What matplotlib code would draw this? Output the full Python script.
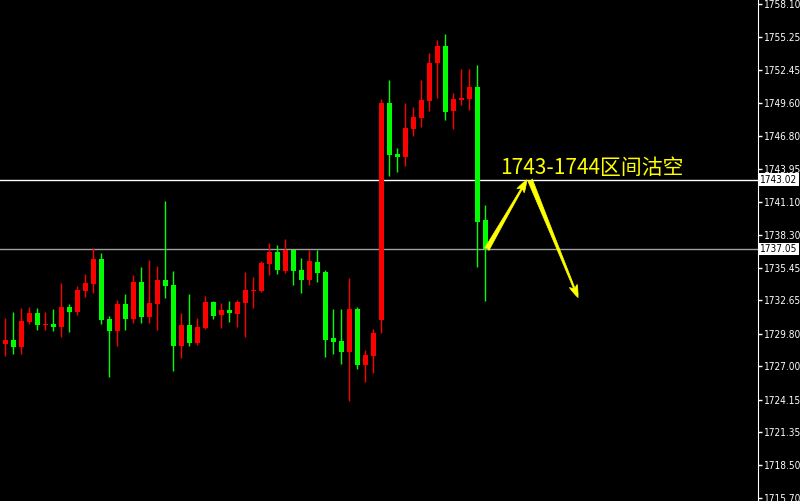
import matplotlib
matplotlib.use('Agg')
import matplotlib.pyplot as plt
import matplotlib.transforms as mtransforms

# OHLC of the 61 bars, left to right
opens = [1728.91, 1729.26, 1728.66, 1730.80, 1731.58, 1730.55, 1730.63, 1730.37, 1732.09, 1731.66,
         1733.46, 1734.06, 1736.21, 1731.06, 1730.03, 1732.35, 1731.06, 1734.24, 1731.23, 1732.35,
         1734.41, 1733.98, 1728.74, 1730.55, 1729.00, 1730.29, 1732.52, 1731.40, 1731.83, 1731.49,
         1732.43, 1733.46, 1733.46, 1735.78, 1736.81, 1735.18, 1736.98, 1735.27, 1734.41, 1735.95,
         1735.09, 1729.43, 1729.17, 1728.23, 1731.92, 1727.11, 1727.89, 1730.97, 1749.60, 1745.22,
         1744.97, 1747.37, 1748.31, 1749.77, 1753.03, 1754.49, 1748.91, 1749.86, 1749.94, 1750.97,
         1739.56]
highs = [1731.15, 1731.66, 1732.00, 1732.09, 1732.00, 1731.66, 1731.92, 1734.15, 1732.35, 1733.89,
         1734.92, 1737.15, 1736.73, 1731.32, 1732.69, 1733.21, 1734.84, 1735.52, 1736.12, 1735.61,
         1741.19, 1735.18, 1731.58, 1733.21, 1731.15, 1733.03, 1732.61, 1732.43, 1732.61, 1732.69,
         1735.09, 1734.67, 1736.04, 1737.58, 1737.41, 1737.93, 1736.98, 1736.30, 1736.98, 1736.98,
         1735.27, 1731.92, 1731.92, 1734.58, 1732.09, 1728.40, 1730.20, 1749.94, 1751.57, 1745.74,
         1749.60, 1749.26, 1751.57, 1753.89, 1755.01, 1755.52, 1750.46, 1752.52, 1752.52, 1752.86,
         1740.85]
lows = [1727.89, 1728.06, 1728.06, 1730.63, 1730.12, 1730.12, 1730.03, 1729.52, 1729.94, 1731.40,
        1732.95, 1733.29, 1730.63, 1726.08, 1728.74, 1730.12, 1730.72, 1730.72, 1730.72, 1730.12,
        1732.86, 1726.60, 1727.71, 1728.74, 1728.83, 1730.20, 1731.06, 1730.29, 1730.80, 1730.37,
        1729.52, 1732.00, 1733.38, 1734.84, 1734.92, 1735.01, 1733.98, 1733.29, 1733.98, 1734.24,
        1727.80, 1728.06, 1727.20, 1724.02, 1726.77, 1725.65, 1726.43, 1729.86, 1743.33, 1743.68,
        1744.19, 1746.77, 1747.54, 1748.91, 1750.03, 1748.14, 1747.37, 1749.43, 1749.00, 1735.52,
        1732.61]
closes = [1729.26, 1728.66, 1730.89, 1731.58, 1730.55, 1730.63, 1730.37, 1732.09, 1731.66, 1733.55,
          1734.15, 1736.21, 1730.97, 1730.03, 1732.35, 1731.06, 1734.24, 1731.23, 1732.43, 1734.41,
          1733.89, 1728.74, 1730.55, 1729.00, 1730.37, 1732.52, 1731.32, 1731.83, 1731.58, 1732.52,
          1733.55, 1733.55, 1735.87, 1736.81, 1735.27, 1736.98, 1735.18, 1734.41, 1736.04, 1735.01,
          1729.26, 1729.09, 1728.23, 1731.92, 1727.11, 1727.97, 1729.86, 1749.60, 1745.14, 1744.97,
          1747.45, 1748.40, 1749.86, 1753.03, 1754.49, 1748.83, 1749.94, 1750.03, 1750.97, 1739.39,
          1737.05]

price_ticks = [1758.10, 1755.25, 1752.45, 1749.60, 1746.80, 1743.95, 1741.10, 1738.30,
               1735.45, 1732.65, 1729.80, 1727.00, 1724.15, 1721.35, 1718.50, 1715.70]

level_high = 1743.02
level_now = 1737.05

note_text = '1743-1744区间沽空'
arrow_up = [(60.2, 1737.05), (65.2, 1743.0)]
arrow_down = [(65.6, 1743.0), (71.6, 1732.9)]

UP = '#ff0000'
DOWN = '#00ff00'
LABEL_FONT = dict(family='DejaVu Sans', fontstretch='condensed', fontsize=7.2)

fig = plt.figure(figsize=(8, 5.01), dpi=100, facecolor='black')
ax = fig.add_axes([0, 0, 758 / 800, 1])
ax.set_facecolor('black')

for i in range(len(opens)):
    o, h, l, c = opens[i], highs[i], lows[i], closes[i]
    col = UP if c >= o else DOWN
    ax.vlines(i, l, h, color=col, lw=1, zorder=2)
    body = max(abs(c - o), 0.09)
    ax.bar(i, body, bottom=min(o, c), width=0.62, color=col, lw=0, zorder=3)

ax.axhline(level_high, color='white', lw=1, zorder=1)
ax.axhline(level_now, color='#a0a0a0', lw=1, zorder=1)

ax.set_xlim(-0.66, 94.1)
ax.set_ylim(1715.44, 1758.44)

ax.yaxis.tick_right()
ax.set_yticks(price_ticks)
ax.set_yticklabels(['%.2f' % v for v in price_ticks])
ax.tick_params(axis='y', colors='white', direction='out', length=3, width=1, pad=1.5)
for lab in ax.get_yticklabels():
    lab.set(**LABEL_FONT)
ax.set_xticks([])
for side in ['top', 'left', 'bottom']:
    ax.spines[side].set_visible(False)
ax.spines['right'].set_color('white')

trans = mtransforms.blended_transform_factory(ax.transAxes, ax.transData)
for lvl in [level_high, level_now]:
    ax.text(1.003, lvl, '%.2f' % lvl, transform=trans, ha='left', va='center',
            color='black', bbox=dict(boxstyle='square,pad=0.12', fc='white', ec='none'),
            clip_on=False, **LABEL_FONT)

ax.text(61.9, 1743.5, note_text, color='#ffff00', fontsize=15,
        family=['Noto Sans CJK SC', 'DejaVu Sans'], ha='left', va='baseline', zorder=5)

for pts in [arrow_up, arrow_down]:
    ax.annotate('', xy=pts[1], xytext=pts[0],
                arrowprops=dict(arrowstyle='fancy,head_length=0.9,head_width=0.6,tail_width=0.35',
                                fc='#ffff00', ec='#ffff00', lw=0.5, shrinkA=0, shrinkB=0),
                zorder=5)

fig.savefig('out.png', dpi=100, facecolor='black')
